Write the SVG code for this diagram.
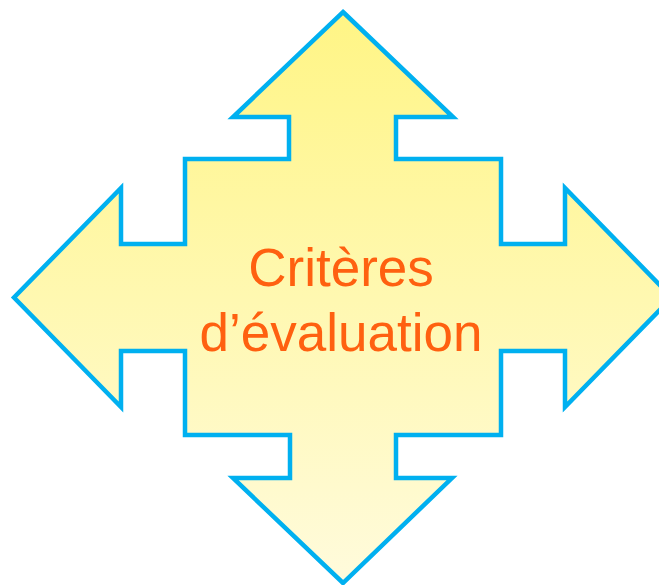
<svg xmlns="http://www.w3.org/2000/svg" width="659" height="585" viewBox="0 0 659 585">
  <defs>
    <linearGradient id="fillGrad" x1="0" y1="0" x2="0" y2="1">
      <stop offset="0" stop-color="#FFF585"/>
      <stop offset="1" stop-color="#FFFBDC"/>
    </linearGradient>
    <style>
      .arrow { fill: url(#fillGrad); stroke: #00B0F0; stroke-width: 4.5; stroke-linejoin: miter; stroke-miterlimit: 10; }
      .label { font-family: "Liberation Sans", Arial, sans-serif; font-size: 53px; fill: #FF6010; text-anchor: middle; }
    </style>
  </defs>
  <rect width="659" height="585" fill="#FFFFFF"/>
  <g id="quad-arrow">
    <path class="arrow" d="M343,12 L453,117 L396,117 L396,159 L501,159 L501,244 L565,244 L565,188 L672,297.5 L565,407 L565,351 L501,351 L501,435 L396,435 L396,478 L452,478 L343,583 L233,478 L290,478 L290,435 L185,435 L185,351 L121,351 L121,407 L14,297.5 L121,188 L121,244 L185,244 L185,159 L289,159 L289,117 L233,117 Z"/>
  </g>
  <g id="label">
    <text class="label" x="341" y="286">Critères</text>
    <text class="label" x="341" y="351">d’évaluation</text>
  </g>
  <g id="connectors"/>
</svg>
